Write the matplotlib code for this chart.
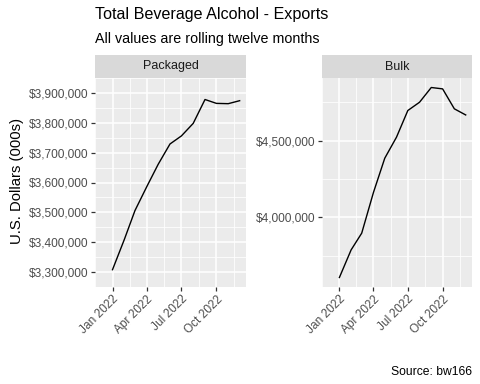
import matplotlib
matplotlib.use("Agg")
import matplotlib.pyplot as plt
import matplotlib.dates as mdates
import matplotlib.ticker as mticker
import numpy as np

plt.rcParams['font.family'] = ['Liberation Sans', 'DejaVu Sans']

# rolling twelve months, Jan..Dec 2022
months = np.array(['2022-%02d-01' % m for m in range(1, 13)], dtype='datetime64[D]')
packaged = [3308000, 3409000, 3506000, 3586000, 3661000, 3729000,
            3756000, 3798000, 3878000, 3865000, 3864000, 3874000]
bulk = [3607000, 3787000, 3896000, 4161000, 4385000, 4522000,
        4696000, 4750000, 4846000, 4837000, 4707000, 4667000]
panels = [('Packaged', packaged, [3300000, 3400000, 3500000, 3600000, 3700000, 3800000, 3900000]),
          ('Bulk', bulk, [4000000, 4500000])]
major_dates = np.array(['2022-01-01', '2022-04-01', '2022-07-01', '2022-10-01'], dtype='datetime64[D]')

W, H = 480, 384
fig = plt.figure(figsize=(W / 100, H / 100), dpi=100)

def frac(x0, y0, x1, y1):
    return [x0 / W, 1 - y1 / H, (x1 - x0) / W, (y1 - y0) / H]

boxes = [(95, 246), (322, 472)]
for (x0, x1), (name, vals, yticks) in zip(boxes, panels):
    ax = fig.add_axes(frac(x0, 78, x1, 287))
    ax.set_facecolor('#EBEBEB')
    for s in ax.spines.values():
        s.set_visible(False)

    xd = mdates.date2num(months.astype('datetime64[s]').astype(object))
    ax.plot(xd, vals, color='black', lw=1.0, zorder=3)

    span = xd[-1] - xd[0]
    ax.set_xlim(xd[0] - 0.05 * span, xd[-1] + 0.05 * span)
    lo, hi = min(vals), max(vals)
    ax.set_ylim(lo - 0.05 * (hi - lo), hi + 0.05 * (hi - lo))

    maj = mdates.date2num(major_dates.astype('datetime64[s]').astype(object))
    ext = np.concatenate([[maj[0] - 92], maj, [maj[-1] + 92]])
    ax.set_xticks(maj)
    ax.set_xticks((ext[:-1] + ext[1:]) / 2, minor=True)
    ax.xaxis.set_major_formatter(mdates.DateFormatter('%b %Y'))

    yt = np.array(yticks, dtype=float)
    step = yt[1] - yt[0]
    ax.set_yticks(yt)
    ax.set_yticks(np.concatenate([yt - step / 2, [yt[-1] + step / 2]]), minor=True)
    ax.yaxis.set_major_formatter(mticker.FuncFormatter(lambda v, p: '${:,.0f}'.format(v)))

    ax.grid(which='major', color='white', lw=1.1)
    ax.grid(which='minor', color='white', lw=0.55)
    ax.set_axisbelow(True)
    ax.tick_params(which='major', length=3, width=0.9, color='#333333',
                   labelsize=8.6, labelcolor='#4D4D4D', pad=1.5)
    ax.tick_params(which='minor', length=0)
    for lab in ax.get_xticklabels():
        lab.set_rotation(45)
        lab.set_ha('right')
        lab.set_rotation_mode('anchor')

    st = fig.add_axes(frac(x0, 55, x1, 78))
    st.set_facecolor('#D9D9D9')
    st.set_xticks([])
    st.set_yticks([])
    for s in st.spines.values():
        s.set_visible(False)
    st.text(0.5, 0.5, name, ha='center', va='center', fontsize=9, color='#1A1A1A',
            transform=st.transAxes)

fig.text(95 / W, 1 - 19.5 / H, 'Total Beverage Alcohol - Exports', fontsize=11.6, va='baseline')
fig.text(95 / W, 1 - 42.7 / H, 'All values are rolling twelve months', fontsize=10.3, va='baseline')
fig.text(17.5 / W, 1 - 181 / H, 'U.S. Dollars (000s)', fontsize=10.7, rotation=90, ha='center', va='center')
fig.text(472 / W, 1 - 375 / H, 'Source: bw166', fontsize=8.7, ha='right', va='baseline')

fig.savefig('out.png', dpi=100, facecolor='white')
